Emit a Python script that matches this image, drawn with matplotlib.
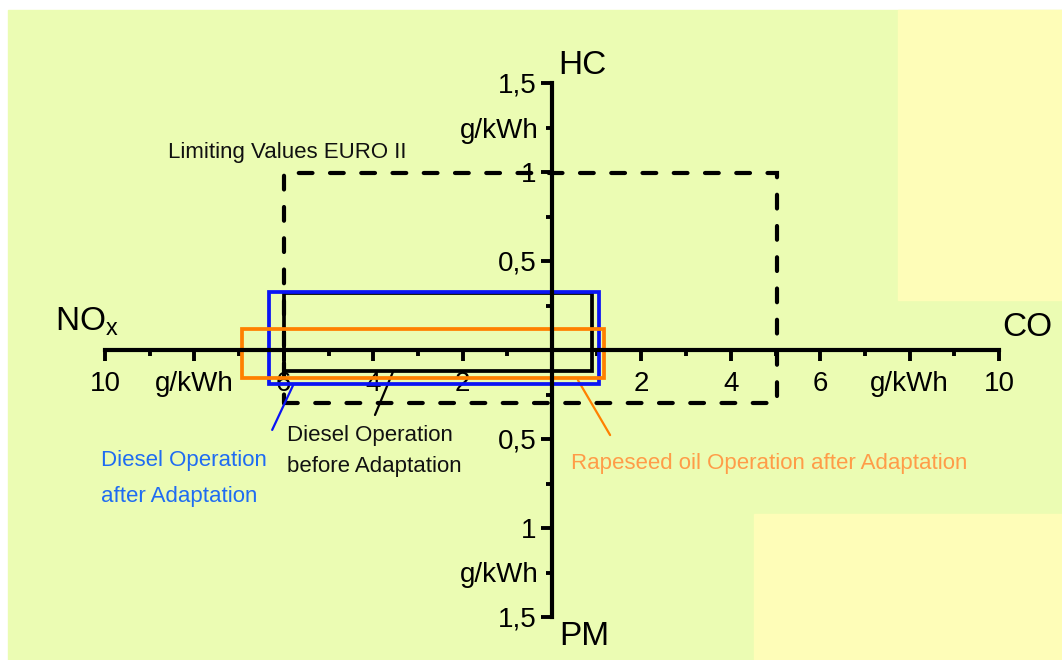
import matplotlib
matplotlib.use('Agg')
import matplotlib.pyplot as plt
from matplotlib.patches import Rectangle
from matplotlib.ticker import FixedLocator, FixedFormatter

plt.rcParams['font.family'] = ['Liberation Sans', 'DejaVu Sans']
plt.rcParams['mathtext.fontset'] = 'custom'
plt.rcParams['mathtext.rm'] = 'Liberation Sans'

# emission values in g/kWh (NOx to the left, CO right, HC up, PM down)
series = ['Limiting Values EURO II', 'Diesel Operation\nbefore Adaptation',
          'Diesel Operation\nafter Adaptation', 'Rapeseed oil Operation after Adaptation']
nox = [6.0, 6.0, 6.33, 6.94]
co = [5.03, 0.90, 1.05, 1.16]
hc = [0.995, 0.32, 0.325, 0.118]
pm = [0.30, 0.118, 0.19, 0.157]
edge_colors = ['black', 'black', '#0a14f5', '#ff8000']
text_colors = ['#111111', '#111111', '#1f6cf2', '#ff9c48']

# axis ticks
x_major = [-10, -8, -6, -4, -2, 2, 4, 6, 8, 10]
x_major_labels = ['10', 'g/kWh', '6', '4', '2', '2', '4', '6', 'g/kWh', '10']
x_minor = [-9, -7, -5, -3, -1, 1, 3, 5, 7, 9]
y_major = [-1.5, -1.0, -0.5, 0.5, 1.0, 1.5]
y_major_labels = ['1,5', '1', '0,5', '0,5', '1', '1,5']
y_minor = [-1.25, -0.75, -0.25, 0.25, 0.75, 1.25]
y_minor_labels = ['g/kWh', '', '', '', '', 'g/kWh']

# label placement (data units)
text_pos = [(-8.59, 1.112), (-5.93, -0.567), (-10.09, -0.72), (0.425, -0.635)]
text_spacing = [1.2, 1.6, 1.95, 1.2]
leader_from = [None, (-3.56, -0.124), (-5.79, -0.197), (0.58, -0.169)]
leader_to = [None, (-3.96, -0.365), (-6.26, -0.449), (1.30, -0.478)]

green = '#ebfcb3'
yellow = '#fefdb8'

fig = plt.figure(figsize=(10.62, 6.60), dpi=100)
fig.patch.set_facecolor('white')
fig.patches.append(Rectangle((8 / 1062, 0), 1, (650 / 660), transform=fig.transFigure,
                             color=green, zorder=-3))
fig.patches.append(Rectangle((898 / 1062, 360 / 660), 1, 290 / 660, transform=fig.transFigure,
                             color=yellow, zorder=-2))
fig.patches.append(Rectangle((754 / 1062, 0), 1, 146 / 660, transform=fig.transFigure,
                             color=yellow, zorder=-2))

ax = fig.add_axes([0, 0, 1, 1])
ax.patch.set_alpha(0)
ax.set_xlim(-552 / 44.7, 510 / 44.7)
ax.set_ylim(-310 / 178, 350 / 178)

for s in ['top', 'right']:
    ax.spines[s].set_visible(False)
ax.spines['left'].set_position(('data', 0))
ax.spines['bottom'].set_position(('data', 0))
ax.spines['left'].set_bounds(-1.5, 1.5)
ax.spines['bottom'].set_bounds(-10, 10)
for s in ['left', 'bottom']:
    ax.spines[s].set_linewidth(3)
    ax.spines[s].set_zorder(4)

ax.xaxis.set_major_locator(FixedLocator(x_major))
ax.xaxis.set_major_formatter(FixedFormatter(x_major_labels))
ax.xaxis.set_minor_locator(FixedLocator(x_minor))
ax.yaxis.set_major_locator(FixedLocator(y_major))
ax.yaxis.set_major_formatter(FixedFormatter(y_major_labels))
ax.yaxis.set_minor_locator(FixedLocator(y_minor))
ax.yaxis.set_minor_formatter(FixedFormatter(y_minor_labels))
ax.tick_params(which='major', length=8, width=2.8, labelsize=20, pad=3, direction='out')
ax.tick_params(which='minor', length=4.5, width=2.8, labelsize=20, pad=5, direction='out')
ax.tick_params(axis='x', which='major', pad=7)

# emission boxes
for i in range(len(series)):
    r = Rectangle((-nox[i], -pm[i]), nox[i] + co[i], hc[i] + pm[i], fill=False,
                  edgecolor=edge_colors[i], linewidth=2.7, zorder=3 + i * 0.1)
    if i == 0:
        r.set_linestyle((0, (3.3, 4.2)))
        r.set_linewidth(3)
        r.set_capstyle('round')
    ax.add_patch(r)
    ax.text(text_pos[i][0], text_pos[i][1], series[i], color=text_colors[i], fontsize=16,
            ha='left', va='center', linespacing=text_spacing[i])
    if leader_from[i] is not None:
        ax.annotate('', xy=leader_from[i], xytext=leader_to[i],
                    arrowprops=dict(arrowstyle='-', color=edge_colors[i], lw=1.6,
                                    shrinkA=0, shrinkB=0))

# axis names
ax.text(0.13, 1.60, 'HC', fontsize=24, ha='left', va='center')
ax.text(0.17, -1.61, 'PM', fontsize=24, ha='left', va='center')
ax.text(-11.12, 0.16, r'NO$_\mathregular{x}$', fontsize=24, ha='left', va='center')
ax.text(10.07, 0.129, 'CO', fontsize=24, ha='left', va='center')

fig.savefig('out.png', dpi=100, facecolor=fig.get_facecolor())
